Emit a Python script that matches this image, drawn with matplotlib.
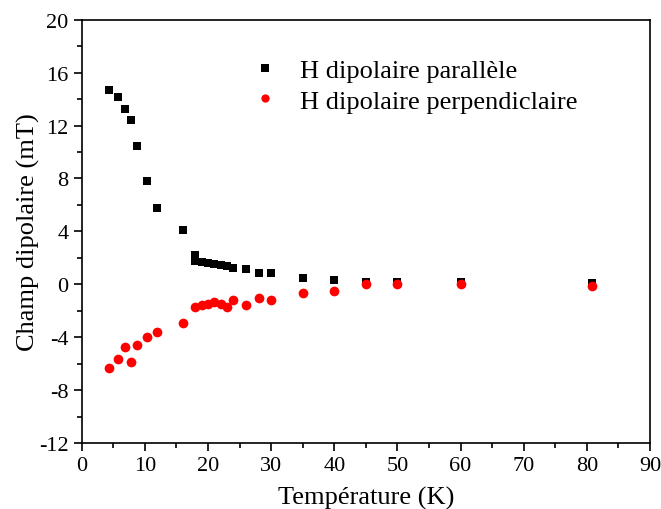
import matplotlib
matplotlib.use("Agg")
import matplotlib.pyplot as plt
from matplotlib.ticker import MultipleLocator

plt.rcParams['font.family'] = ['Liberation Serif', 'DejaVu Serif']
plt.rcParams['axes.unicode_minus'] = False

# Data
T_par = [4.4, 5.8, 6.8, 7.8, 8.8, 10.3, 12.0, 16.0, 18.0, 18.0, 19.0, 20.0, 21.0, 22.0, 23.0, 24.0,
         26.0, 28.0, 30.0, 35.0, 40.0, 45.0, 50.0, 60.0, 80.8]
H_par = [14.69, 14.13, 13.28, 12.42, 10.43, 7.79, 5.74, 4.08, 2.21, 1.76, 1.69, 1.61, 1.53, 1.46, 1.38, 1.2,
         1.15, 0.83, 0.83, 0.48, 0.35, 0.15, 0.15, 0.15, 0.1]

T_perp = [4.4, 5.8, 6.8, 7.8, 8.8, 10.3, 12.0, 16.0, 18.0, 19.0, 20.0, 21.0, 22.0, 23.0, 24.0,
          26.0, 28.0, 30.0, 35.0, 40.0, 45.0, 50.0, 60.0, 80.8]
H_perp = [-6.33, -5.65, -4.72, -5.85, -4.59, -3.96, -3.58, -2.93, -1.69, -1.54, -1.49, -1.32, -1.49, -1.69, -1.19,
          -1.54, -1.04, -1.19, -0.68, -0.53, 0.0, 0.0, 0.0, -0.1]

label_par = "H dipolaire parallèle"
label_perp = "H dipolaire perpendiclaire"

fig = plt.figure(figsize=(6.61, 5.10), dpi=100)
ax = fig.add_axes([0.1236, 0.1294, 0.9834 - 0.1236, 0.9594 - 0.1294])

ax.plot(T_par, H_par, linestyle='none', marker='s', markersize=6, color='black',
        markeredgewidth=0, label=label_par)
ax.plot(T_perp, H_perp, linestyle='none', marker='o', markersize=7, color='#ff0000',
        markeredgewidth=0, label=label_perp)

ax.set_xlim(0, 90)
ax.set_ylim(-12, 20)
ax.xaxis.set_major_locator(MultipleLocator(10))
ax.xaxis.set_minor_locator(MultipleLocator(5))
ax.yaxis.set_major_locator(MultipleLocator(4))
ax.yaxis.set_minor_locator(MultipleLocator(2))
ax.tick_params(which='major', direction='out', length=6, width=1.2, labelsize=16)
ax.tick_params(which='minor', direction='out', length=3.5, width=1.2)
for s in ax.spines.values():
    s.set_linewidth(1.2)

ax.set_xlabel("Température (K)", fontsize=19, labelpad=8)
ax.set_ylabel("Champ dipolaire (mT)", fontsize=19, labelpad=-1)

leg = ax.legend(loc='upper left', bbox_to_anchor=(0.258, 0.965), frameon=False, fontsize=19,
                markerscale=0.85, handlelength=1.0, handletextpad=0.8, labelspacing=0.28)

fig.savefig("out.png", dpi=100)
